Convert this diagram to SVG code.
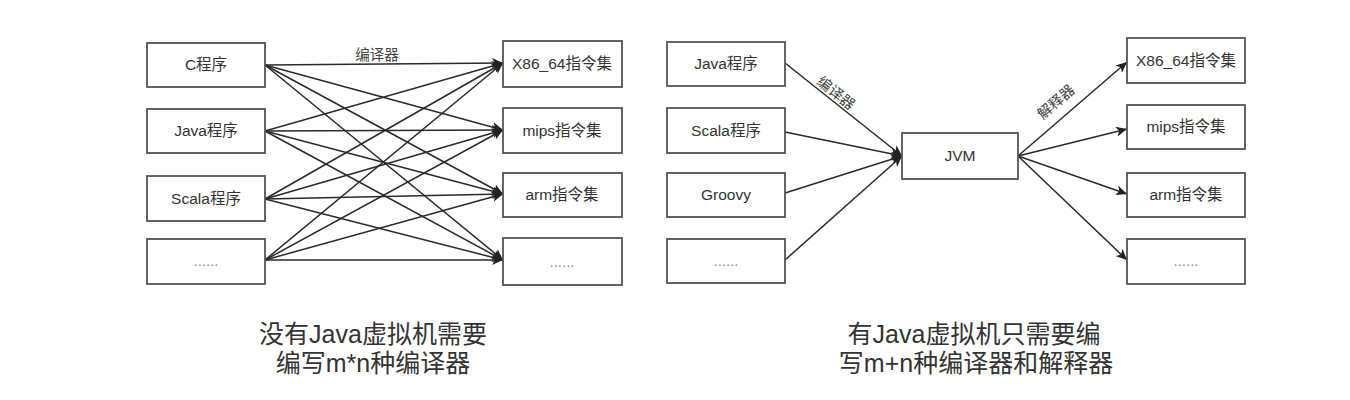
<svg xmlns="http://www.w3.org/2000/svg" width="1350" height="400" viewBox="0 0 1350 400">
<style>
.box{fill:#fff;stroke:#555;stroke-width:1.8}
.t{font-family:"Liberation Sans","Noto Sans CJK SC",sans-serif;font-size:15.5px;fill:#333;text-anchor:middle}
.d{font-family:"Liberation Sans","Noto Sans CJK SC",sans-serif;font-size:15px;fill:#8a8aa8;text-anchor:middle}
.lbl{font-family:"Liberation Sans","Noto Sans CJK SC",sans-serif;font-size:14.5px;fill:#444;text-anchor:middle}
.title{font-family:"Liberation Sans","Noto Sans CJK SC",sans-serif;font-size:25px;fill:#333;text-anchor:middle}
.e{fill:none;stroke:#2a2a2a;stroke-width:1.5;marker-end:url(#arr)}
</style>
<defs>
<marker id="arr" markerUnits="userSpaceOnUse" markerWidth="12" markerHeight="10" refX="11" refY="5" orient="auto">
<path d="M0,0 L11,5 L0,10 L3,5 z" fill="#222"/>
</marker>
</defs>
<rect width="1350" height="400" fill="#fff"/>
<g id="connectors">
<path class="e" d="M265,65 L503,63"/>
<path class="e" d="M265,65 L503,130"/>
<path class="e" d="M265,65 L503,194"/>
<path class="e" d="M265,65 L503,260"/>
<path class="e" d="M265,131 L503,63"/>
<path class="e" d="M265,131 L503,130"/>
<path class="e" d="M265,131 L503,194"/>
<path class="e" d="M265,131 L503,260"/>
<path class="e" d="M265,199 L503,63"/>
<path class="e" d="M265,199 L503,130"/>
<path class="e" d="M265,199 L503,194"/>
<path class="e" d="M265,199 L503,260"/>
<path class="e" d="M265,260 L503,63"/>
<path class="e" d="M265,260 L503,130"/>
<path class="e" d="M265,260 L503,194"/>
<path class="e" d="M265,260 L503,260"/>
<text class="lbl" x="377" y="60">编译器</text>
<path class="e" d="M785,63 L902,156"/>
<path class="e" d="M785,132 L902,156"/>
<path class="e" d="M785,193 L902,156"/>
<path class="e" d="M785,260 L902,156"/>
<text class="lbl" transform="translate(836,93) rotate(38.5)" y="5">编译器</text>
<path class="e" d="M1018,156 L1127,62"/>
<path class="e" d="M1018,156 L1127,129"/>
<path class="e" d="M1018,156 L1127,194"/>
<path class="e" d="M1018,156 L1127,260"/>
<text class="lbl" transform="translate(1056,102) rotate(-40.8)" y="5">解释器</text>
</g>
<g id="l-c"><rect class="box" x="147" y="43" width="118" height="44"/><text class="t" x="206" y="70">C程序</text></g>
<g id="l-java"><rect class="box" x="147" y="109" width="118" height="44"/><text class="t" x="206" y="136">Java程序</text></g>
<g id="l-scala"><rect class="box" x="147" y="176" width="118" height="45"/><text class="t" x="206" y="204">Scala程序</text></g>
<g id="l-more"><rect class="box" x="147" y="239" width="118" height="45"/><text class="d" x="206" y="266">......</text></g>
<g id="l-x86"><rect class="box" x="503" y="41" width="119" height="46"/><text class="t" x="562" y="69">X86_64指令集</text></g>
<g id="l-mips"><rect class="box" x="503" y="108" width="119" height="45"/><text class="t" x="562" y="136">mips指令集</text></g>
<g id="l-arm"><rect class="box" x="503" y="173" width="119" height="44"/><text class="t" x="562" y="200">arm指令集</text></g>
<g id="l-more2"><rect class="box" x="503" y="238" width="119" height="47"/><text class="d" x="562" y="267">......</text></g>
<g id="r-java"><rect class="box" x="667" y="42" width="118" height="44"/><text class="t" x="726" y="69">Java程序</text></g>
<g id="r-scala"><rect class="box" x="667" y="108" width="118" height="45"/><text class="t" x="726" y="136">Scala程序</text></g>
<g id="r-groovy"><rect class="box" x="667" y="173" width="118" height="44"/><text class="t" x="726" y="200">Groovy</text></g>
<g id="r-more"><rect class="box" x="667" y="239" width="118" height="44"/><text class="d" x="726" y="266">......</text></g>
<g id="r-jvm"><rect class="box" x="902" y="133" width="116" height="46"/><text class="t" x="960" y="161">JVM</text></g>
<g id="r-x86"><rect class="box" x="1127" y="38" width="118" height="45"/><text class="t" x="1186" y="66">X86_64指令集</text></g>
<g id="r-mips"><rect class="box" x="1127" y="105" width="118" height="44"/><text class="t" x="1186" y="132">mips指令集</text></g>
<g id="r-arm"><rect class="box" x="1127" y="173" width="118" height="44"/><text class="t" x="1186" y="200">arm指令集</text></g>
<g id="r-more2"><rect class="box" x="1127" y="239" width="118" height="45"/><text class="d" x="1186" y="266">......</text></g>
<g id="title-left">
<text class="title" x="373" y="343">没有Java虚拟机需要</text>
<text class="title" x="373" y="372">编写m*n种编译器</text>
</g>
<g id="title-right">
<text class="title" x="974" y="343">有Java虚拟机只需要编</text>
<text class="title" x="976" y="372">写m+n种编译器和解释器</text>
</g>
</svg>
